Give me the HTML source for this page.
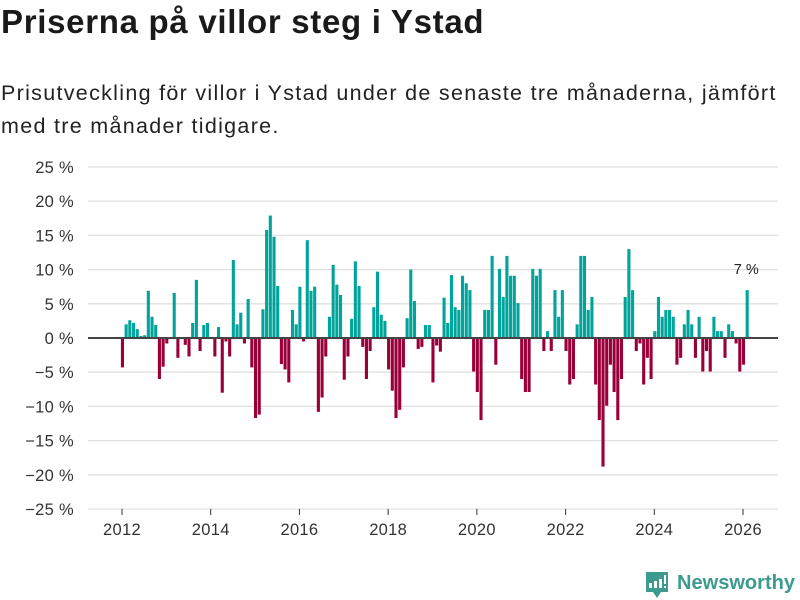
<!DOCTYPE html>
<html><head><meta charset="utf-8">
<style>
body{margin:0;background:#fff;width:800px;height:600px;overflow:hidden;font-family:"Liberation Sans","DejaVu Sans",sans-serif;}
#title{position:absolute;left:1px;top:3px;font-size:33px;font-weight:bold;color:#1a1a1a;margin:0;letter-spacing:0.7px;white-space:nowrap}
#subtitle{position:absolute;left:1px;top:77px;font-size:21.5px;line-height:33px;color:#222;width:799px;letter-spacing:1.3px;white-space:nowrap}
svg{position:absolute;left:0;top:0}
</style></head><body>
<h1 id="title">Priserna på villor steg i Ystad</h1>
<div id="subtitle">Prisutveckling för villor i Ystad under de senaste tre månaderna, jämfört<br>med tre månader tidigare.</div>
<svg id="chart" width="800" height="600"></svg>
<script>
const startYear = 2012;
const yTicks = [25,20,15,10,5,0,-5,-10,-15,-20,-25];
const xTicks = [2012,2014,2016,2018,2020,2022,2024,2026];
const values = [
-4.3,2.0,2.6,2.2,1.3,0.3,0.4,6.9,3.1,1.9,-6,-4.2,-0.8,0,6.6,-2.9,0,-1,-2.7,2.2,
8.5,-1.9,1.9,2.2,0,-2.7,1.6,-8,-0.5,-2.7,11.4,2,3.7,-0.8,5.7,-4.3,-11.7,-11.2,4.2,15.8,
17.9,14.8,7.6,-3.8,-4.6,-6.5,4.1,2.0,7.5,-0.5,14.3,6.9,7.5,-10.8,-8.7,-2.7,3.1,10.7,7.8,6.3,
-6.1,-2.7,2.8,11.2,7.6,-1.3,-6,-1.9,4.5,9.7,3.4,2.5,-4.6,-7.7,-11.7,-10.5,-4.3,2.9,10,5.4,
-1.6,-1.3,1.9,1.9,-6.5,-1.1,-2,5.9,2.2,9.2,4.5,4.1,9.1,8.0,7.0,-4.9,-7.9,-12,4.1,4.1,
12,-3.9,10.1,6.0,12,9.1,9.1,5.1,-6,-7.9,-7.9,10.1,9.1,10.1,-1.9,1.0,-1.9,7.0,3.1,7.0,
-1.9,-6.8,-6,2.0,12,12,4.1,6.0,-6.8,-12,-18.8,-9.9,-3.9,-7.9,-12,-6,6,13,7,-1.9,
-0.8,-6.8,-2.9,-6,1.0,6,3.1,4.1,4.1,3.1,-3.9,-2.9,2.0,4.1,2.0,-2.9,3.1,-4.9,-1.9,-4.9,
3.1,1.0,1.0,-2.9,2.0,1.0,-0.8,-4.9,-3.9,7
];
const lastLabel = "7 %";

const NS='http://www.w3.org/2000/svg';
const svg=document.getElementById('chart');
const X0=122, YEARW=44.36, Y0=338, PER=34.2/5;
function xYear(y){return X0+(y-startYear)*YEARW;}
function xMonth(i){return X0+0.5+i*YEARW/12;}
function yVal(v){return Y0-v*PER;}
function mk(tag,attrs,parent){const e=document.createElementNS(NS,tag);for(const k in attrs)e.setAttribute(k,attrs[k]);(parent||svg).appendChild(e);return e;}

const gGrid=mk('g',{});


yTicks.forEach(t=>{
  if(t!==0){const l=mk('line',{x1:88,x2:778,y1:yVal(t),y2:yVal(t),stroke:'#e0e0e0','stroke-width':1.3},gGrid);
  
  }
  const tx=mk('text',{x:74,y:yVal(t)+6,'text-anchor':'end','font-size':16.5,fill:'#333','letter-spacing':0.3});
  tx.textContent=(t<0?'−'+Math.abs(t):t)+' %';
  
  
});
xTicks.forEach(yr=>{
  const x=xYear(yr);
  const l=mk('line',{x1:x,x2:x,y1:509,y2:515,stroke:'#333','stroke-width':1});
  
  
  const tx=mk('text',{x:x,y:535,'text-anchor':'middle','font-size':16.5,fill:'#333','letter-spacing':0.3});
  tx.textContent=yr;
  
  
});
const gBars=mk('g',{});


values.forEach((v,i)=>{
  if(v===0)return;
  const x=xMonth(i)-1.6;
  const y=v>0?yVal(v):Y0;
  const r=mk('rect',{x:x,y:y,width:3.1,height:Math.abs(v)*PER,fill:v>0?'#00a49a':'#990039'},gBars);
  
  
});
const z=mk('line',{x1:88,x2:778,y1:Y0,y2:Y0,stroke:'#444','stroke-width':2});


const li=values.length-1;
const lab=mk('text',{x:xMonth(li)-1,y:yVal(values[li])-16,'text-anchor':'middle','font-size':14.5,fill:'#222'});
lab.textContent=lastLabel;



// logo
const lg=mk('g',{});


mk('path',{d:'M646 572 h22 v20 h-7 l-4 6 l-4 -6 h-7 z',fill:'#3d9a8f'},lg);
mk('rect',{x:649,y:583,width:3,height:5,fill:'#fff'},lg);
mk('rect',{x:654,y:581,width:3,height:7,fill:'#fff'},lg);
mk('rect',{x:659,y:579,width:3,height:9,fill:'#fff'},lg);
mk('rect',{x:664,y:575,width:2,height:9,fill:'#fff'},lg);
mk('rect',{x:664,y:586,width:2,height:2,fill:'#fff'},lg);
const lt=mk('text',{x:677,y:589,'font-size':20,'font-weight':'bold',fill:'#3d9a8f',textLength:118,lengthAdjust:'spacingAndGlyphs'},lg);
lt.textContent='Newsworthy';
</script>
</body></html>
